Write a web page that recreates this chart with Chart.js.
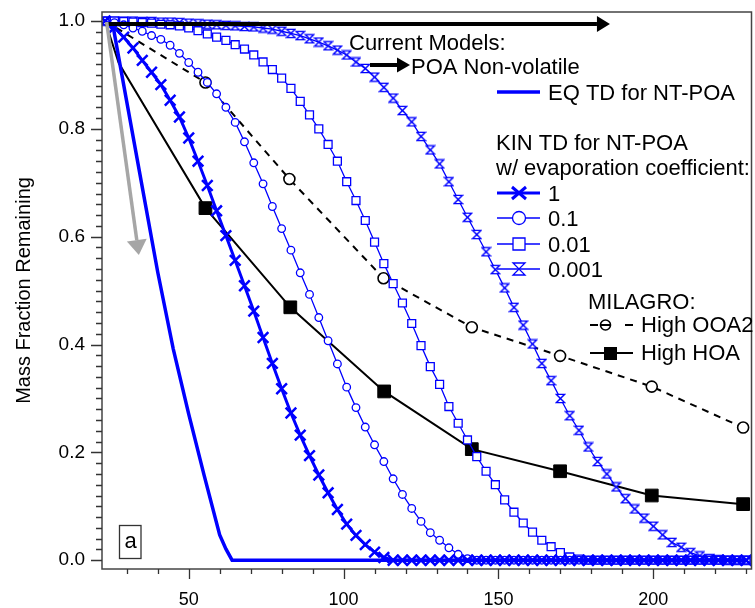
<!DOCTYPE html>
<html>
<head>
<meta charset="utf-8">
<script src="https://cdn.jsdelivr.net/npm/chart.js@4.4.1/dist/chart.umd.min.js"></script>
<style>
  html, body { margin: 0; padding: 0; background: #fff; }
  #wrap { width: 755px; height: 608px; }
</style>
</head>
<body>
<div id="wrap"><canvas id="massChart" width="755" height="608"></canvas></div>
<script>
// temperature grid of the KIN TD model runs
const temps = [
  23, 26, 29, 32, 35, 38, 41, 44, 47, 50,
  53, 56, 59, 62, 65, 68, 71, 74, 77, 80,
  83, 86, 89, 92, 95, 98, 101, 104, 107, 110,
  113, 116, 119, 122, 125, 128, 131, 134, 137, 140,
  143, 146, 149, 152, 155, 158, 161, 164, 167, 170,
  173, 176, 179, 182, 185, 188, 191, 194, 197, 200,
  203, 206, 209, 212, 215, 218, 221, 224, 227, 230
];
// evaporation coefficient 1
const kin1 = [
  1.000, 0.988, 0.970, 0.950, 0.927, 0.905, 0.882, 0.853, 0.822, 0.783,
  0.740, 0.695, 0.648, 0.602, 0.556, 0.509, 0.462, 0.413, 0.365, 0.318,
  0.273, 0.232, 0.194, 0.158, 0.125, 0.094, 0.067, 0.046, 0.029, 0.015,
  0.005, 0, 0, 0, 0, 0, 0, 0, 0, 0,
  0, 0, 0, 0, 0, 0, 0, 0, 0, 0,
  0, 0, 0, 0, 0, 0, 0, 0, 0, 0,
  0, 0, 0, 0, 0, 0, 0, 0, 0, 0
];
// evaporation coefficient 0.1
const kin01 = [
  1.000, 0.997, 0.993, 0.987, 0.981, 0.973, 0.966, 0.955, 0.940, 0.923,
  0.905, 0.886, 0.865, 0.840, 0.812, 0.776, 0.737, 0.698, 0.656, 0.615,
  0.575, 0.533, 0.493, 0.450, 0.407, 0.364, 0.321, 0.283, 0.247, 0.214,
  0.183, 0.151, 0.122, 0.096, 0.072, 0.051, 0.037, 0.023, 0.011, 0.003,
  0, 0, 0, 0, 0, 0, 0, 0, 0, 0,
  0, 0, 0, 0, 0, 0, 0, 0, 0, 0,
  0, 0, 0, 0, 0, 0, 0, 0, 0, 0
];
// evaporation coefficient 0.01
const kin001 = [
  1.000, 1.000, 0.999, 0.998, 0.997, 0.996, 0.994, 0.993, 0.991, 0.987,
  0.982, 0.976, 0.970, 0.964, 0.956, 0.948, 0.937, 0.924, 0.910, 0.894,
  0.875, 0.851, 0.826, 0.800, 0.771, 0.740, 0.702, 0.667, 0.630, 0.590,
  0.550, 0.513, 0.477, 0.439, 0.398, 0.359, 0.326, 0.285, 0.254, 0.223,
  0.192, 0.165, 0.140, 0.112, 0.089, 0.069, 0.052, 0.037, 0.025, 0.014,
  0.006, 0.002, 0, 0, 0, 0, 0, 0, 0, 0,
  0, 0, 0, 0, 0, 0, 0, 0, 0, 0
];
// evaporation coefficient 0.001
const kin0001 = [
  1.000, 1.000, 1.000, 1.000, 0.999, 0.999, 0.998, 0.998, 0.997, 0.996,
  0.995, 0.994, 0.993, 0.992, 0.991, 0.990, 0.989, 0.987, 0.985, 0.981,
  0.977, 0.973, 0.967, 0.961, 0.954, 0.946, 0.937, 0.924, 0.912, 0.896,
  0.877, 0.857, 0.834, 0.813, 0.786, 0.761, 0.735, 0.702, 0.669, 0.636,
  0.604, 0.572, 0.539, 0.505, 0.469, 0.436, 0.401, 0.365, 0.333, 0.300,
  0.268, 0.241, 0.210, 0.183, 0.160, 0.136, 0.114, 0.095, 0.078, 0.063,
  0.047, 0.033, 0.024, 0.014, 0.008, 0.003, 0.001, 0, 0, 0
];
// EQ TD model
const eqTemps = [23, 25.8, 30, 35, 40, 45, 50, 55, 60, 62, 64, 230];
const eqFrac = [1.0, 0.983, 0.850, 0.692, 0.534, 0.392, 0.271, 0.157, 0.047, 0.021, 0, 0];
// MILAGRO measurements
const ooa2Temps = [23, 55.4, 82.5, 112.9, 141.4, 169.9, 199.5, 229];
const ooa2Frac = [1.0, 0.886, 0.707, 0.523, 0.432, 0.379, 0.322, 0.246];
const hoaTemps = [23, 27.4, 55.4, 82.8, 113.1, 141.4, 169.9, 199.5, 229];
const hoaFrac = [1.0, 0.922, 0.653, 0.469, 0.313, 0.206, 0.165, 0.120, 0.104];

const xTickLabels = [50, 100, 150, 200];
const yTickLabels = [0.0, 0.2, 0.4, 0.6, 0.8, 1.0];

// arrows, in data units: [temp, fraction]
const nonVolArrow = [[23, 0.9944], [186, 0.9944]];
const greyArrow = [[23.5, 0.998], [33.9, 0.566]];

const blue = '#0000ff';
const FONT = '"Liberation Sans", Arial, Helvetica, sans-serif';

const pts = (xs, ys) => xs.map((x, i) => ({ x: x, y: ys[i] }));

function makeHourglass(size, lw, color) {
    const c = document.createElement('canvas');
    c.width = size; c.height = size;
    const g = c.getContext('2d');
    const m = size / 2, s = size / 2 - lw;
    g.beginPath();
    g.moveTo(m - s, m - s); g.lineTo(m + s, m - s);
    g.lineTo(m - s, m + s); g.lineTo(m + s, m + s);
    g.closePath();
    g.fillStyle = '#fff'; g.fill();
    g.lineWidth = lw; g.strokeStyle = color; g.stroke();
    return c;
}
const hourglass = makeHourglass(11, 1.3, blue);

function arrow(ctx, x1, y1, x2, y2, color, lw, headLen, headW) {
    const a = Math.atan2(y2 - y1, x2 - x1);
    const bx = x2 - headLen * Math.cos(a), by = y2 - headLen * Math.sin(a);
    ctx.save();
    ctx.strokeStyle = color; ctx.lineWidth = lw;
    ctx.beginPath(); ctx.moveTo(x1, y1); ctx.lineTo(bx, by); ctx.stroke();
    ctx.fillStyle = color;
    ctx.beginPath();
    ctx.moveTo(x2, y2);
    ctx.lineTo(bx + headW / 2 * Math.sin(a), by - headW / 2 * Math.cos(a));
    ctx.lineTo(bx - headW / 2 * Math.sin(a), by + headW / 2 * Math.cos(a));
    ctx.closePath(); ctx.fill();
    ctx.restore();
}

function marker(ctx, kind, x, y) {
    ctx.save();
    ctx.strokeStyle = blue; ctx.fillStyle = '#fff'; ctx.lineWidth = 1.3;
    ctx.beginPath();
    if (kind === 'cross') {
        ctx.lineWidth = 3;
        ctx.moveTo(x - 7, y - 6); ctx.lineTo(x + 7, y + 6);
        ctx.moveTo(x - 7, y + 6); ctx.lineTo(x + 7, y - 6);
        ctx.stroke();
    } else if (kind === 'circle') {
        ctx.arc(x, y, 6.5, 0, Math.PI * 2); ctx.fill(); ctx.stroke();
    } else if (kind === 'rect') {
        ctx.rect(x - 6, y - 6, 12, 12); ctx.fill(); ctx.stroke();
    } else if (kind === 'hourglass') {
        ctx.moveTo(x - 6, y - 6); ctx.lineTo(x + 6, y - 6);
        ctx.lineTo(x - 6, y + 6); ctx.lineTo(x + 6, y + 6);
        ctx.closePath(); ctx.fill(); ctx.stroke();
    }
    ctx.restore();
}

const decorations = {
    id: 'decorations',
    afterDatasetsDraw(chart) {
        const { ctx, chartArea: ca, scales: { x, y } } = chart;
        ctx.save();
        // frame
        ctx.strokeStyle = '#444'; ctx.lineWidth = 1.5;
        ctx.strokeRect(ca.left, ca.top, ca.right - ca.left, ca.bottom - ca.top);
        // tick marks
        ctx.strokeStyle = '#333'; ctx.lineWidth = 1.3;
        ctx.beginPath();
        for (let v = 30; v <= 230; v += 10) {
            const px = Math.round(x.getPixelForValue(v)) + 0.5;
            const len = v % 50 === 0 ? 10 : 5;
            ctx.moveTo(px, ca.bottom); ctx.lineTo(px, ca.bottom + len);
        }
        for (let i = 0; i <= 50; i++) {
            const py = Math.round(y.getPixelForValue(i * 0.02)) + 0.5;
            const len = i % 10 === 0 ? 11 : 6;
            ctx.moveTo(ca.left, py); ctx.lineTo(ca.left - len, py);
        }
        ctx.stroke();

        // arrows
        arrow(ctx, x.getPixelForValue(nonVolArrow[0][0]), y.getPixelForValue(nonVolArrow[0][1]),
            x.getPixelForValue(nonVolArrow[1][0]), y.getPixelForValue(nonVolArrow[1][1]), '#000', 4, 13, 16);
        arrow(ctx, x.getPixelForValue(greyArrow[0][0]), y.getPixelForValue(greyArrow[0][1]),
            x.getPixelForValue(greyArrow[1][0]), y.getPixelForValue(greyArrow[1][1]), '#a6a6a6', 3.5, 15, 20);

        // legend / annotation text
        ctx.fillStyle = '#000';
        ctx.font = '22px ' + FONT;
        ctx.textBaseline = 'middle';
        ctx.textAlign = 'left';
        ctx.fillText('Current Models:', 349, 44);
        arrow(ctx, 370, 65, 410, 65, '#000', 4, 13, 15);
        ctx.fillText('POA Non-volatile', 411, 68);

        ctx.save();
        ctx.strokeStyle = blue; ctx.lineWidth = 3.5;
        ctx.beginPath(); ctx.moveTo(497, 92); ctx.lineTo(540, 92); ctx.stroke();
        ctx.restore();
        ctx.fillText('EQ TD for NT-POA', 548, 94);

        ctx.fillText('KIN TD for NT-POA', 496, 144);
        ctx.fillText('w/ evaporation coefficient:', 496, 169);
        const rows = [['cross', '1', 194, 3], ['circle', '0.1', 219, 1.3], ['rect', '0.01', 245, 1.3], ['hourglass', '0.001', 270, 1.3]];
        rows.forEach(([kind, txt, yy, lw]) => {
            ctx.save();
            ctx.strokeStyle = blue; ctx.lineWidth = lw;
            ctx.beginPath(); ctx.moveTo(497, yy - 1); ctx.lineTo(540, yy - 1); ctx.stroke();
            ctx.restore();
            marker(ctx, kind, 519, yy - 1);
            ctx.fillText(txt, 548, yy + 1);
        });

        ctx.fillText('MILAGRO:', 588, 303);
        // OOA2 sample
        ctx.save();
        ctx.strokeStyle = '#000'; ctx.lineWidth = 2;
        ctx.beginPath();
        ctx.moveTo(590, 325); ctx.lineTo(598, 325);
        ctx.moveTo(625, 325); ctx.lineTo(633, 325);
        ctx.moveTo(600, 325); ctx.lineTo(611, 325);
        ctx.stroke();
        ctx.lineWidth = 1.6;
        ctx.beginPath(); ctx.arc(605.5, 325, 5, 0, Math.PI * 2); ctx.stroke();
        ctx.restore();
        ctx.fillText('High OOA2', 641, 326);
        // HOA sample
        ctx.save();
        ctx.strokeStyle = '#000'; ctx.lineWidth = 2;
        ctx.beginPath(); ctx.moveTo(590, 353); ctx.lineTo(633, 353); ctx.stroke();
        ctx.fillStyle = '#000'; ctx.fillRect(604, 347, 13, 13);
        ctx.restore();
        ctx.fillText('High HOA', 641, 354);

        // panel label
        ctx.strokeStyle = '#333'; ctx.lineWidth = 1.3;
        ctx.strokeRect(119.5, 525.5, 21.5, 33);
        ctx.textAlign = 'center';
        ctx.fillText('a', 130.5, 542);
        ctx.restore();
    }
};

const thin = { borderColor: blue, borderWidth: 1.3, pointBorderColor: blue, pointBackgroundColor: '#fff', pointBorderWidth: 1.3 };

new Chart(document.getElementById('massChart').getContext('2d'), {
    type: 'line',
    data: {
        datasets: [
            { label: 'EQ TD for NT-POA', data: pts(eqTemps, eqFrac), borderColor: blue, borderWidth: 3.5, pointRadius: 0 },
            { label: '1', data: pts(temps, kin1), borderColor: blue, borderWidth: 3, pointStyle: 'crossRot',
              pointRadius: 7.5, pointBorderColor: blue, pointBorderWidth: 2.5 },
            Object.assign({ label: '0.1', data: pts(temps, kin01), pointStyle: 'circle', pointRadius: 3.8 }, thin),
            Object.assign({ label: '0.01', data: pts(temps, kin001), pointStyle: 'rect', pointRadius: 5.6 }, thin),
            Object.assign({ label: '0.001', data: pts(temps, kin0001), pointStyle: hourglass, pointRadius: 5 }, thin),
            { label: 'High OOA2', data: pts(ooa2Temps, ooa2Frac), borderColor: '#000', borderWidth: 2, borderDash: [7, 6],
              pointStyle: 'circle', pointRadius: [0, 5.5, 5.5, 5.5, 5.5, 5.5, 5.5, 5.5],
              pointBorderColor: '#000', pointBackgroundColor: '#fff', pointBorderWidth: 1.6 },
            { label: 'High HOA', data: pts(hoaTemps, hoaFrac), borderColor: '#000', borderWidth: 2,
              pointStyle: 'rect', pointRadius: [0, 0, 9, 9, 9, 9, 9, 9, 9],
              pointBorderColor: '#000', pointBackgroundColor: '#000', pointBorderWidth: 1 }
        ]
    },
    options: {
        responsive: false,
        animation: false,
        devicePixelRatio: 1,
        layout: { autoPadding: false, padding: { top: 12, right: 3.5, left: 0, bottom: 0 } },
        elements: { line: { tension: 0 } },
        plugins: { legend: { display: false }, tooltip: { enabled: false } },
        events: [],
        scales: {
            x: {
                type: 'linear', min: 22, max: 231.7,
                afterBuildTicks: s => { s.ticks = xTickLabels.map(v => ({ value: v })); },
                afterFit: s => { s.height = 39; s.paddingLeft = 0; s.paddingRight = 0; },
                grid: { display: false, drawTicks: false, tickLength: 0 },
                border: { display: false },
                ticks: { padding: 20, color: '#000', maxRotation: 0, autoSkip: false, font: { family: FONT, size: 18 } }
            },
            y: {
                min: -0.0163, max: 1.0167,
                afterBuildTicks: s => { s.ticks = yTickLabels.map(v => ({ value: v })); },
                afterFit: s => { s.width = 102; s.paddingTop = 0; s.paddingBottom = 0; },
                grid: { display: false, drawTicks: false, tickLength: 0 },
                border: { display: false },
                ticks: { padding: 17, color: '#000', font: { family: FONT, size: 19 }, callback: v => v.toFixed(1) },
                title: { display: true, text: 'Mass Fraction Remaining', color: '#000',
                         font: { family: FONT, size: 20 }, padding: { top: 12, bottom: 0 } }
            }
        }
    },
    plugins: [decorations]
});
</script>
</body>
</html>
